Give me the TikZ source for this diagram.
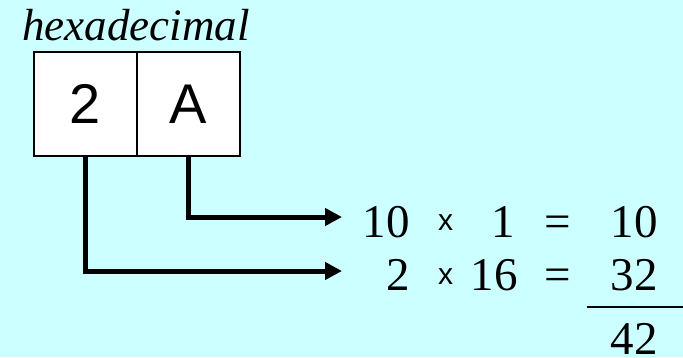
\documentclass[tikz,border=0pt]{standalone}
\usepackage{fontspec}
\setmainfont{Liberation Serif}
\newfontfamily\helv{Liberation Sans}
\usetikzlibrary{arrows.meta}
\definecolor{bgcyan}{HTML}{CCFFFF}
\begin{document}
\begin{tikzpicture}[x=1pt,y=-1pt,
  cell/.style={draw=black,line width=2pt,fill=white,minimum width=103pt,minimum height=104pt,inner sep=0pt,font=\helv\fontsize{56}{60}\selectfont},
  conn/.style={line width=5pt,-{Triangle[length=17pt,width=17pt]}},
  num/.style={font=\fontsize{47}{50}\selectfont,inner sep=0pt},
  times/.style={font=\helv\fontsize{30}{32}\selectfont,inner sep=0pt}]
\fill[bgcyan] (0,0) rectangle (683,357);
\useasboundingbox (0,0) rectangle (683,357);
\node[anchor=base west,inner sep=0pt,font=\itshape\fontsize{45}{48}\selectfont] (title) at (22,40) {hexadecimal};
\node[cell] (h2) at (85.5,104) {2};
\node[cell] (hA) at (188.5,104) {A};
\coordinate (t1) at (342,217);
\coordinate (t2) at (342,271);
\draw[conn] (hA.south) |- (t1);
\draw[conn] (h2.south) |- (t2);
% row 1
\node[num,anchor=base east] (a1) at (410,237) {10};
\node[times,anchor=base] (x1) at (445.5,230) {x};
\node[num,anchor=base east] (b1) at (515,237) {1};
\node[num,anchor=base] (e1) at (558,237) {=};
\node[num,anchor=base east] (r1) at (658,237) {10};
% row 2
\node[num,anchor=base east] (a2) at (410,290) {2};
\node[times,anchor=base] (x2) at (445.5,284) {x};
\node[num,anchor=base east] (b2) at (518,290) {16};
\node[num,anchor=base] (e2) at (558,290) {=};
\node[num,anchor=base east] (r2) at (658,290) {32};
% sum
\coordinate (s1) at (587,307);
\coordinate (s2) at (683,307);
\draw[line width=2pt] (s1) -- (s2);
\node[num,anchor=base east] (tot) at (658,354) {42};
\end{tikzpicture}
\end{document}
